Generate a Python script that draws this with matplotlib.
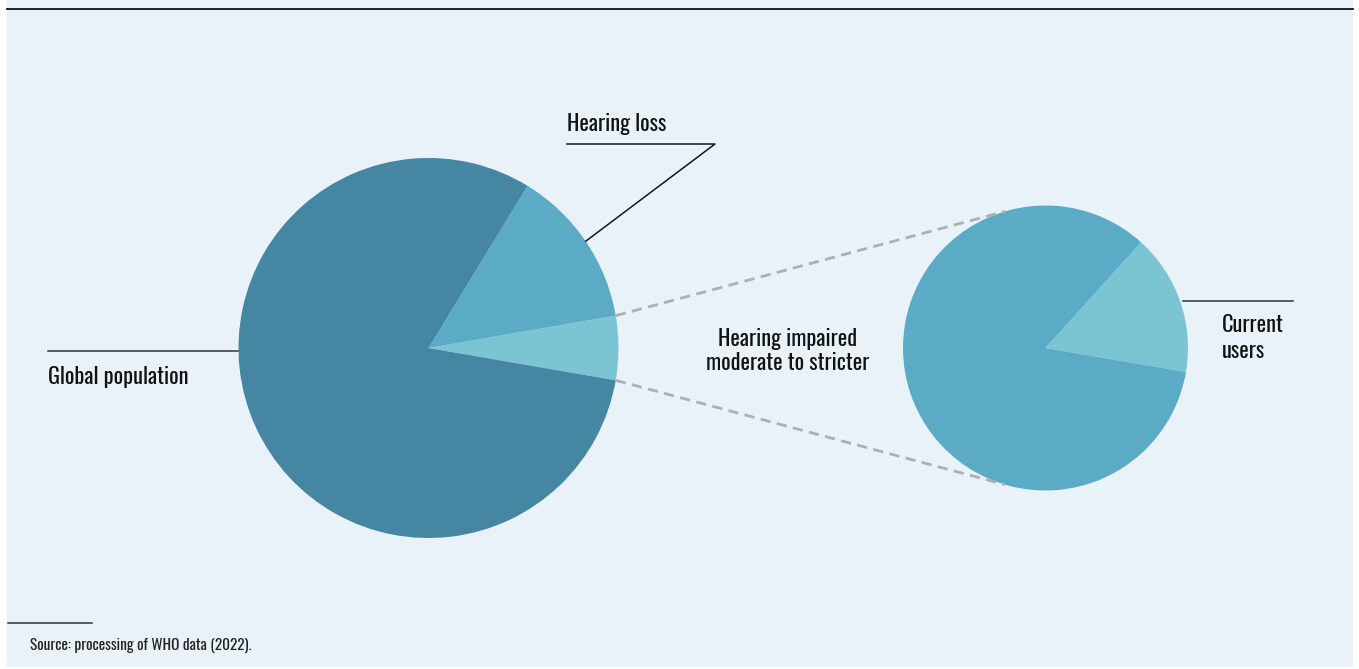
import numpy as np
import matplotlib
matplotlib.use("Agg")
import matplotlib.pyplot as plt
from matplotlib.patches import Rectangle

# World population split (billions), WHO 2022
main_labels = ["Hearing impaired\nmoderate to stricter", "Hearing loss", "Global population"]
main_values = [0.43, 1.07, 6.40]
main_colors = ["#7bc4d4", "#5babc6", "#4586a3"]

# Share of the hearing-impaired group using hearing aids (%)
sub_labels = ["Current\nusers", "Non users"]
sub_values = [16, 84]
sub_colors = ["#7bc4d4", "#5babc6"]

source_text = "Source: processing of WHO data (2022)."

W, H = 1359, 669
FONT = ["Oswald", "DejaVu Sans"]
TXT = "#121212"

fig = plt.figure(figsize=(W / 100, H / 100), dpi=100)
ax = fig.add_axes([0, 0, 1, 1])


def Y(y):
    return H - y


def on_circle(c, r, deg):
    t = np.deg2rad(deg)
    return c[0] + r * np.cos(t), c[1] + r * np.sin(t)


def label(x, y_base, s, ha="left", size=16, step=24.5, color=TXT, **kw):
    for i, line in enumerate(s.split("\n")):
        ax.text(x, Y(y_base + i * step), line, fontsize=size, family=FONT,
                color=color, va="baseline", ha=ha, **kw)


# panel background and top rule
ax.add_patch(Rectangle((7, Y(667)), 1346, 667, facecolor="#eaf2f9",
                       edgecolor="none", zorder=0))
ax.plot([7, 1353], [Y(9), Y(9)], color="#111111", lw=1.3, zorder=1)

# main pie
c1 = (428.5, Y(348))
r1 = 190
total = sum(main_values)
start1 = -main_values[0] / total * 180
ax.pie(main_values, colors=main_colors, startangle=start1, counterclock=True,
       center=c1, radius=r1, wedgeprops=dict(linewidth=0), frame=True)

# detail pie
c2 = (1045.5, Y(348))
r2 = 142.5
start2 = -9.7
ax.pie(sub_values, colors=sub_colors, startangle=start2, counterclock=True,
       center=c2, radius=r2, wedgeprops=dict(linewidth=0), frame=True)

ax.set_xlim(0, W)
ax.set_ylim(0, H)
ax.set_aspect("auto")
ax.axis("off")

# dashed connectors between the impaired slice and the detail pie
for sgn in (1, -1):
    p1 = on_circle(c1, r1, sgn * abs(start1))
    p2 = on_circle(c2, r2, sgn * 106.6)
    ax.plot([p1[0], p2[0]], [p1[1], p2[1]], color="#aab0b6", lw=2,
            dashes=(3.7, 2.3), zorder=3)

# Hearing loss callout
mid_hl = start1 + (main_values[0] + main_values[1] / 2) / total * 360
pe = on_circle(c1, r1, mid_hl)
ax.plot([pe[0], 715, 567], [pe[1], Y(144), Y(144)], color="#151515", lw=1.1, zorder=3)
label(567, 131, main_labels[1])

# Global population callout
ax.plot([48, 238], [Y(351), Y(351)], color="#333333", lw=1.1, zorder=3)
label(48, 383.5, main_labels[2])

# Hearing impaired label
label(787.5, 345.5, main_labels[0], ha="center", step=25)

# Current users callout
ax.plot([1183, 1293], [Y(301), Y(301)], color="#333333", lw=1.1, zorder=3)
label(1222, 332, sub_labels[0], step=25.5)

# source note
ax.plot([8, 92], [Y(623), Y(623)], color="#333333", lw=1.1)
label(30, 650, source_text, size=11, color="#222222")

fig.savefig("out.png", dpi=100, facecolor="white")
